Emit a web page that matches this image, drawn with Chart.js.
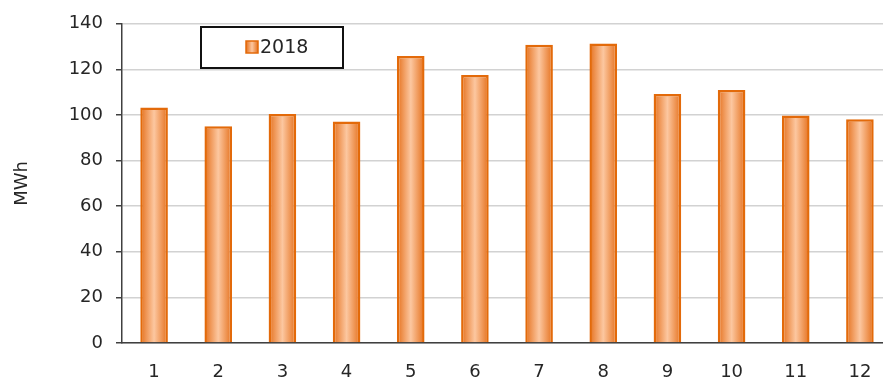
<!DOCTYPE html>
<html lang="en">
<head>
  <meta charset="UTF-8" />
  <title>MWh 2018</title>
  <script src="https://cdn.jsdelivr.net/npm/chart.js"></script>
  <style>
    html, body {
      margin: 0;
      padding: 0;
      background: #ffffff;
      overflow: hidden;
    }
    .wrap {
      position: relative;
      width: 892px;
      height: 381px;
    }
  </style>
</head>
<body>
<div class="wrap">
  <canvas id="energyChart"></canvas>
</div>

<script>
// monthly values
const months = ['1', '2', '3', '4', '5', '6', '7', '8', '9', '10', '11', '12'];
const mwh2018 = [103.3, 95.1, 100.4, 97.1, 125.9, 117.5, 130.8, 131.4, 109.2, 111.0, 99.8, 98.1];
const yTicks = [0, 20, 40, 60, 80, 100, 120, 140];

const textColor = '#262626';
const orange = '#e36a0a';
const barShare = 0.43;
const fontFamily = '"DejaVu Sans", Verdana, sans-serif';

function barGradient(ctx, x0, x1) {
  const g = ctx.createLinearGradient(x0, 0, x1, 0);
  g.addColorStop(0, '#e5701c');
  g.addColorStop(0.5, '#fcc7a0');
  g.addColorStop(1, '#e5701c');
  return g;
}

// boxed legend sitting inside the plot
const boxedLegend = {
  id: 'boxedLegend',
  afterDraw(chart) {
    const ctx = chart.ctx;
    const area = chart.chartArea;
    const x = area.left + 79, y = 27, w = 142, h = 41;
    ctx.save();
    ctx.fillStyle = '#ffffff';
    ctx.fillRect(x, y, w, h);
    ctx.lineWidth = 2;
    ctx.strokeStyle = '#111111';
    ctx.strokeRect(x, y, w, h);
    // marker
    const mx = x + 45, my = y + 14, ms = 12;
    ctx.fillStyle = barGradient(ctx, mx, mx + ms);
    ctx.fillRect(mx, my, ms, ms);
    ctx.lineWidth = 1.5;
    ctx.strokeStyle = orange;
    ctx.strokeRect(mx, my, ms, ms);
    ctx.fillStyle = textColor;
    ctx.font = '19px ' + fontFamily;
    ctx.textBaseline = 'middle';
    ctx.fillText(chart.data.datasets[0].label, mx + ms + 2, y + h / 2 + 1);
    ctx.restore();
  }
};

const chart = new Chart(document.getElementById('energyChart'), {
  type: 'bar',
  data: {
    labels: months,
    datasets: [{
      label: '2018',
      data: mwh2018,
      backgroundColor: function(c) {
        const ch = c.chart;
        if (!ch.chartArea) return '#f4a460';
        const xs = ch.scales.x;
        const cx = xs.getPixelForValue(c.dataIndex);
        const hw = xs.width / months.length * barShare / 2;
        return barGradient(ch.ctx, cx - hw, cx + hw);
      },
      borderColor: orange,
      borderWidth: 2.5,
      barPercentage: 1,
      categoryPercentage: barShare
    }]
  },
  options: {
    responsive: true,
    maintainAspectRatio: false,
    animation: false,
    layout: { autoPadding: false, padding: { top: 20, right: 0, bottom: 0, left: 0 } },
    plugins: {
      legend: { display: false },
      tooltip: { enabled: false }
    },
    scales: {
      x: {
        afterFit(scale) { scale.height = 38; },
        grid: { display: false, drawTicks: false },
        border: { color: '#404040', width: 1.5 },
        ticks: {
          color: textColor,
          font: { family: fontFamily, size: 18 },
          padding: 19,
          maxRotation: 0
        }
      },
      y: {
        min: 0,
        max: 140,
        afterFit(scale) { scale.width = 122; },
        afterBuildTicks(scale) { scale.ticks = yTicks.map(v => ({ value: v })); },
        grid: {
          color: '#d2d2d2',
          lineWidth: 1.5,
          tickColor: '#404040',
          tickLength: 6
        },
        border: { color: '#404040', width: 1.5 },
        ticks: {
          color: textColor,
          font: { family: fontFamily, size: 18 },
          padding: 13
        },
        title: {
          display: true,
          text: 'MWh',
          color: textColor,
          font: { family: fontFamily, size: 18 },
          padding: { top: 12, bottom: 0 }
        }
      }
    }
  },
  plugins: [boxedLegend]
});
</script>
</body>
</html>
